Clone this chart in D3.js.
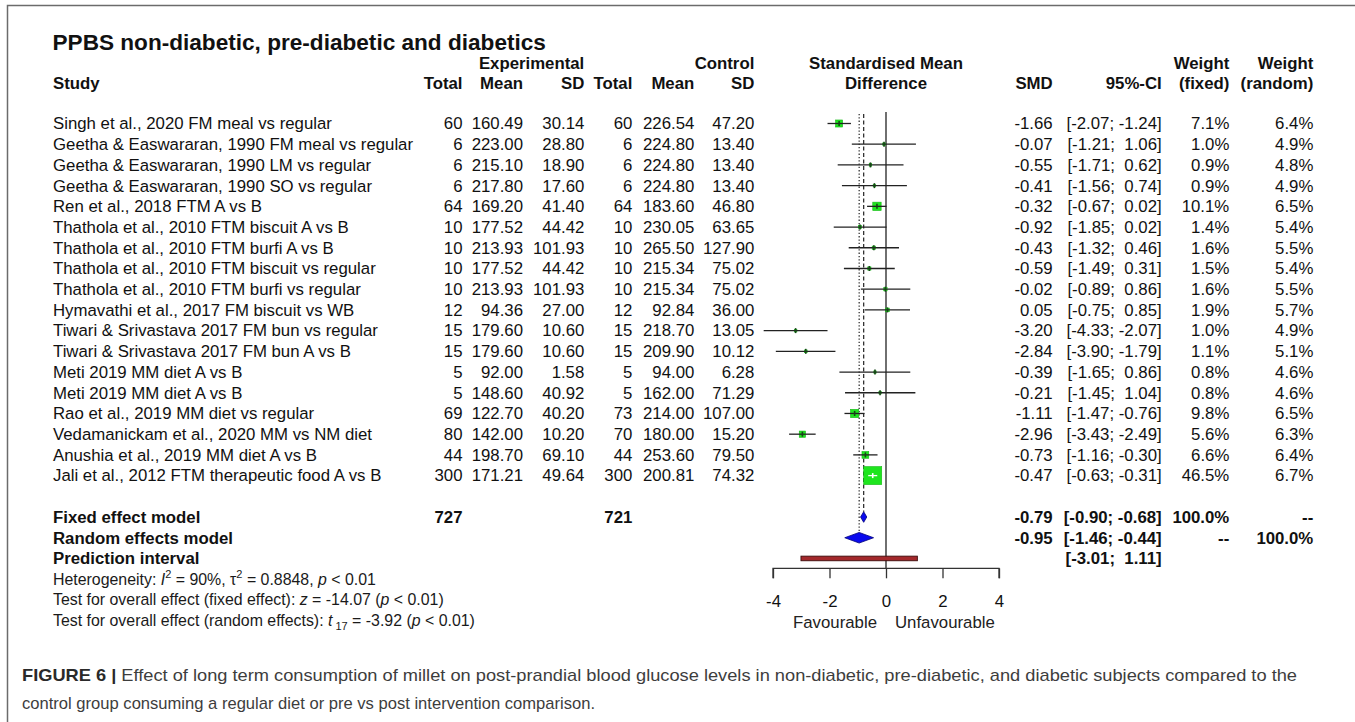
<!DOCTYPE html>
<html>
<head>
<meta charset="utf-8">
<script src="https://cdn.jsdelivr.net/npm/d3@7"></script>
<style>
  html, body { margin: 0; padding: 0; background: #fff; }
  svg { display: block; }
  text { font-family: "Liberation Sans", Arial, Helvetica, sans-serif; fill: #111; white-space: pre; }
</style>
</head>
<body>
<svg id="chart" width="1355" height="722"></svg>
<script>
// ---- study data ----
const studies = [
  "Singh et al., 2020 FM meal vs regular",
  "Geetha & Easwararan, 1990 FM meal vs regular",
  "Geetha & Easwararan, 1990 LM vs regular",
  "Geetha & Easwararan, 1990 SO vs regular",
  "Ren et al., 2018 FTM A vs B",
  "Thathola et al., 2010 FTM biscuit A vs B",
  "Thathola et al., 2010 FTM burfi A vs B",
  "Thathola et al., 2010 FTM biscuit vs regular",
  "Thathola et al., 2010 FTM burfi vs regular",
  "Hymavathi et al., 2017 FM biscuit vs WB",
  "Tiwari & Srivastava 2017 FM bun vs regular",
  "Tiwari & Srivastava 2017 FM bun A vs B",
  "Meti 2019 MM diet A vs B",
  "Meti 2019 MM diet A vs B",
  "Rao et al., 2019 MM diet vs regular",
  "Vedamanickam et al., 2020 MM vs NM diet",
  "Anushia et al., 2019 MM diet A vs B",
  "Jali et al., 2012 FTM therapeutic food A vs B"
];
const expTotal  = [60, 6, 6, 6, 64, 10, 10, 10, 10, 12, 15, 15, 5, 5, 69, 80, 44, 300];
const expMean   = [160.49, 223.00, 215.10, 217.80, 169.20, 177.52, 213.93, 177.52, 213.93, 94.36, 179.60, 179.60, 92.00, 148.60, 122.70, 142.00, 198.70, 171.21];
const expSD     = [30.14, 28.80, 18.90, 17.60, 41.40, 44.42, 101.93, 44.42, 101.93, 27.00, 10.60, 10.60, 1.58, 40.92, 40.20, 10.20, 69.10, 49.64];
const ctrlTotal = [60, 6, 6, 6, 64, 10, 10, 10, 10, 12, 15, 15, 5, 5, 73, 70, 44, 300];
const ctrlMean  = [226.54, 224.80, 224.80, 224.80, 183.60, 230.05, 265.50, 215.34, 215.34, 92.84, 218.70, 209.90, 94.00, 162.00, 214.00, 180.00, 253.60, 200.81];
const ctrlSD    = [47.20, 13.40, 13.40, 13.40, 46.80, 63.65, 127.90, 75.02, 75.02, 36.00, 13.05, 10.12, 6.28, 71.29, 107.00, 15.20, 79.50, 74.32];
const smd       = [-1.66, -0.07, -0.55, -0.41, -0.32, -0.92, -0.43, -0.59, -0.02, 0.05, -3.20, -2.84, -0.39, -0.21, -1.11, -2.96, -0.73, -0.47];
const ciLower   = [-2.07, -1.21, -1.71, -1.56, -0.67, -1.85, -1.32, -1.49, -0.89, -0.75, -4.33, -3.90, -1.65, -1.45, -1.47, -3.43, -1.16, -0.63];
const ciUpper   = [-1.24, 1.06, 0.62, 0.74, 0.02, 0.02, 0.46, 0.31, 0.86, 0.85, -2.07, -1.79, 0.86, 1.04, -0.76, -2.49, -0.30, -0.31];
const weightFixed  = [7.1, 1.0, 0.9, 0.9, 10.1, 1.4, 1.6, 1.5, 1.6, 1.9, 1.0, 1.1, 0.8, 0.8, 9.8, 5.6, 6.6, 46.5];
const weightRandom = [6.4, 4.9, 4.8, 4.9, 6.5, 5.4, 5.5, 5.4, 5.5, 5.7, 4.9, 5.1, 4.6, 4.6, 6.5, 6.3, 6.4, 6.7];

// ---- pooled results ----
const summaryLabels = ["Fixed effect model", "Random effects model", "Prediction interval"];
const summaryEst    = [-0.79, -0.95, null];
const summaryLower  = [-0.90, -1.46, -3.01];
const summaryUpper  = [-0.68, -0.44, 1.11];
const summaryExpN   = [727, null, null];
const summaryCtrlN  = [721, null, null];
const summaryWFixed  = ["100.0%", "--", null];
const summaryWRandom = ["--", "100.0%", null];

const axisTicks = [-4, -2, 0, 2, 4];

// ---- layout ----
const svg = d3.select("#chart");
const FS = 16.8;
const x = d3.scaleLinear().domain([-4, 4]).range([773, 999]);
const yRow = d3.scaleLinear().domain([0, 17]).range([123.5, 475.6]);
const sq = d3.scaleSqrt().domain([0, 46.5]).range([0, 18]);
const axisY = 568.3;

const col = {
  study: 53, expTotal: 462.5, expMean: 523, expSD: 584.3,
  ctrlTotal: 632.3, ctrlMean: 694.3, ctrlSD: 754.3,
  smd: 1052.7, ci: 1161.7, wFixed: 1229.3, wRandom: 1313.3
};

function txt(xp, yp, s, anchor, opts = {}) {
  return svg.append("text")
    .attr("x", xp).attr("y", yp).attr("dy", "0.35em")
    .attr("text-anchor", anchor || "start")
    .attr("font-size", opts.size || FS)
    .attr("font-weight", opts.bold ? "bold" : "normal")
    .style("fill", opts.fill || "#111")
    .text(s);
}
const f2 = v => v.toFixed(2);
const fmtCI = (lo, hi) => "[" + (lo < 0 ? "" : " ") + f2(lo) + "; " + (hi < 0 ? "" : " ") + f2(hi) + "]";

// frame around the figure
svg.append("path")
  .attr("d", "M7.5,722 V5.5 H1355")
  .attr("fill", "none").attr("stroke", "#6b6b6b").attr("stroke-width", 1.5);

// title
txt(52.5, 42.5, "PPBS non-diabetic, pre-diabetic and diabetics", "start", { size: 22.6, bold: true });

// headers
const h1 = 63.3, h2 = 83.3;
txt(col.expSD, h1, "Experimental", "end", { bold: true });
txt(col.ctrlSD, h1, "Control", "end", { bold: true });
txt(x(0), h1, "Standardised Mean", "middle", { bold: true });
txt(col.wFixed, h1, "Weight", "end", { bold: true });
txt(col.wRandom, h1, "Weight", "end", { bold: true });
txt(col.study, h2, "Study", "start", { bold: true });
txt(col.expTotal, h2, "Total", "end", { bold: true });
txt(col.expMean, h2, "Mean", "end", { bold: true });
txt(col.expSD, h2, "SD", "end", { bold: true });
txt(col.ctrlTotal, h2, "Total", "end", { bold: true });
txt(col.ctrlMean, h2, "Mean", "end", { bold: true });
txt(col.ctrlSD, h2, "SD", "end", { bold: true });
txt(x(0), h2, "Difference", "middle", { bold: true });
txt(col.smd, h2, "SMD", "end", { bold: true });
txt(col.ci, h2, "95%-CI", "end", { bold: true });
txt(col.wFixed, h2, "(fixed)", "end", { bold: true });
txt(col.wRandom, h2, "(random)", "end", { bold: true });

// study rows (text columns)
studies.forEach((s, i) => {
  const yy = yRow(i);
  txt(col.study, yy, s, "start");
  txt(col.expTotal, yy, String(expTotal[i]), "end");
  txt(col.expMean, yy, f2(expMean[i]), "end");
  txt(col.expSD, yy, f2(expSD[i]), "end");
  txt(col.ctrlTotal, yy, String(ctrlTotal[i]), "end");
  txt(col.ctrlMean, yy, f2(ctrlMean[i]), "end");
  txt(col.ctrlSD, yy, f2(ctrlSD[i]), "end");
  txt(col.smd, yy, f2(smd[i]), "end");
  txt(col.ci, yy, fmtCI(ciLower[i], ciUpper[i]), "end");
  txt(col.wFixed, yy, weightFixed[i].toFixed(1) + "%", "end");
  txt(col.wRandom, yy, weightRandom[i].toFixed(1) + "%", "end");
});

// summary rows (text)
summaryLabels.forEach((s, k) => {
  const yy = yRow(19 + k);
  txt(col.study, yy, s, "start", { bold: true });
  if (summaryExpN[k] != null) txt(col.expTotal, yy, String(summaryExpN[k]), "end", { bold: true });
  if (summaryCtrlN[k] != null) txt(col.ctrlTotal, yy, String(summaryCtrlN[k]), "end", { bold: true });
  if (summaryEst[k] != null) txt(col.smd, yy, f2(summaryEst[k]), "end", { bold: true });
  txt(col.ci, yy, fmtCI(summaryLower[k], summaryUpper[k]), "end", { bold: true });
  if (summaryWFixed[k] != null) txt(col.wFixed, yy, summaryWFixed[k], "end", { bold: true });
  if (summaryWRandom[k] != null) txt(col.wRandom, yy, summaryWRandom[k], "end", { bold: true });
});

// heterogeneity and overall-effect statistics
const SFS = 15.9;
function statLine(yy, parts) {
  const t = svg.append("text").attr("x", col.study).attr("y", yy).attr("dy", "0.35em")
    .attr("font-size", SFS).style("fill", "#1a1a1a");
  parts.forEach(p => {
    const ts = t.append("tspan").text(p.s);
    if (p.it) ts.attr("font-style", "italic");
    if (p.dy) ts.attr("dy", p.dy);
    if (p.fs) ts.attr("font-size", p.fs);
  });
}
statLine(yRow(22), [
  { s: "Heterogeneity: " }, { s: "I", it: true }, { s: "2", dy: -6.5, fs: 11 },
  { s: " = 90%, τ", dy: 6.5 }, { s: "2", dy: -6.5, fs: 11 }, { s: " = 0.8848, ", dy: 6.5 },
  { s: "p", it: true }, { s: " < 0.01" }
]);
statLine(yRow(23), [
  { s: "Test for overall effect (fixed effect): " }, { s: "z", it: true },
  { s: " = -14.07 (" }, { s: "p", it: true }, { s: " < 0.01)" }
]);
statLine(yRow(24), [
  { s: "Test for overall effect (random effects): " }, { s: "t", it: true },
  { s: " 17", dy: 4, fs: 11 }, { s: " = -3.92 (", dy: -4 }, { s: "p", it: true }, { s: " < 0.01)" }
]);

// ---- forest panel ----
const plot = svg.append("g");
const yFixed = yRow(19), yRandom = yRow(20), yPred = yRow(21);
const dH = 5.3;

// reference line at zero
plot.append("line")
  .attr("x1", x(0)).attr("x2", x(0)).attr("y1", 112).attr("y2", axisY)
  .attr("stroke", "#222").attr("stroke-width", 1.3);
// fixed effect estimate (dashed) and random effects estimate (dotted)
plot.append("line")
  .attr("x1", x(summaryEst[0])).attr("x2", x(summaryEst[0])).attr("y1", 114).attr("y2", yFixed - dH)
  .attr("stroke", "#222").attr("stroke-width", 1.2).attr("stroke-dasharray", "4,2.5");
plot.append("line")
  .attr("x1", x(summaryEst[1])).attr("x2", x(summaryEst[1])).attr("y1", 114).attr("y2", yRandom - dH)
  .attr("stroke", "#222").attr("stroke-width", 1.2).attr("stroke-dasharray", "1.3,2");

// study squares and confidence intervals
studies.forEach((s, i) => {
  const yy = yRow(i), side = sq(weightFixed[i]);
  const cx = x(smd[i]);
  plot.append("rect")
    .attr("x", cx - side / 2).attr("y", yy - side / 2)
    .attr("width", side).attr("height", side)
    .attr("fill", "#1ee51e").attr("stroke", "#14b814").attr("stroke-width", 0.6);
  const inside = (x(ciUpper[i]) - x(ciLower[i])) < side;
  plot.append("line")
    .attr("x1", x(ciLower[i])).attr("x2", x(ciUpper[i])).attr("y1", yy).attr("y2", yy)
    .attr("stroke", inside ? "#fff" : "#222").attr("stroke-width", 1.3);
  plot.append("line")
    .attr("x1", cx).attr("x2", cx).attr("y1", yy - 2.5).attr("y2", yy + 2.5)
    .attr("stroke", inside ? "#fff" : "#174417").attr("stroke-width", 1.6);
});

// pooled diamonds
[[yFixed, 0], [yRandom, 1]].forEach(([yy, k]) => {
  plot.append("path")
    .attr("d", `M${x(summaryLower[k])},${yy} L${x(summaryEst[k])},${yy - dH} L${x(summaryUpper[k])},${yy} L${x(summaryEst[k])},${yy + dH} Z`)
    .attr("fill", "#0a0aee").attr("stroke", "#00007a").attr("stroke-width", 0.8);
});
// prediction interval bar
plot.append("rect")
  .attr("x", x(summaryLower[2])).attr("y", yPred - 2.3)
  .attr("width", x(summaryUpper[2]) - x(summaryLower[2])).attr("height", 4.6)
  .attr("fill", "#a3282b").attr("stroke", "#3b0b0b").attr("stroke-width", 0.9);

// x axis
const axis = d3.axisBottom(x).tickValues(axisTicks).tickSize(10).tickPadding(17).tickFormat(d3.format("d"));
const ax = plot.append("g").attr("transform", `translate(0,${axisY})`).call(axis);
ax.select(".domain").attr("stroke", "#333").attr("stroke-width", 1.3).attr("d", `M${x(-4)},10V0H${x(4)}V10`);
ax.selectAll(".tick line").attr("stroke", "#333").attr("stroke-width", 1.3);
ax.selectAll(".tick text")
  .attr("font-size", FS).attr("font-family", "'Liberation Sans', Arial, sans-serif").style("fill", "#111")
  .text(d => d < 0 ? "-" + Math.abs(d) : String(d));
txt(x(0) - 9, 621.7, "Favourable", "end", { fill: "#222" });
txt(x(0) + 9, 621.7, "Unfavourable", "start", { fill: "#222" });

// ---- figure caption ----
const cap1 = svg.append("text").attr("x", 22).attr("y", 675).attr("dy", "0.35em")
  .attr("font-size", 16.2).attr("textLength", 1275).attr("lengthAdjust", "spacingAndGlyphs");
cap1.append("tspan").attr("font-weight", "bold").style("fill", "#2a2a2a").text("FIGURE 6 | ");
cap1.append("tspan").style("fill", "#3d3d3d")
  .text("Effect of long term consumption of millet on post-prandial blood glucose levels in non-diabetic, pre-diabetic, and diabetic subjects compared to the");
svg.append("text").attr("x", 22).attr("y", 703).attr("dy", "0.35em")
  .attr("font-size", 16.2).style("fill", "#3d3d3d").attr("textLength", 573).attr("lengthAdjust", "spacingAndGlyphs")
  .text("control group consuming a regular diet or pre vs post intervention comparison.");
</script>
</body>
</html>
